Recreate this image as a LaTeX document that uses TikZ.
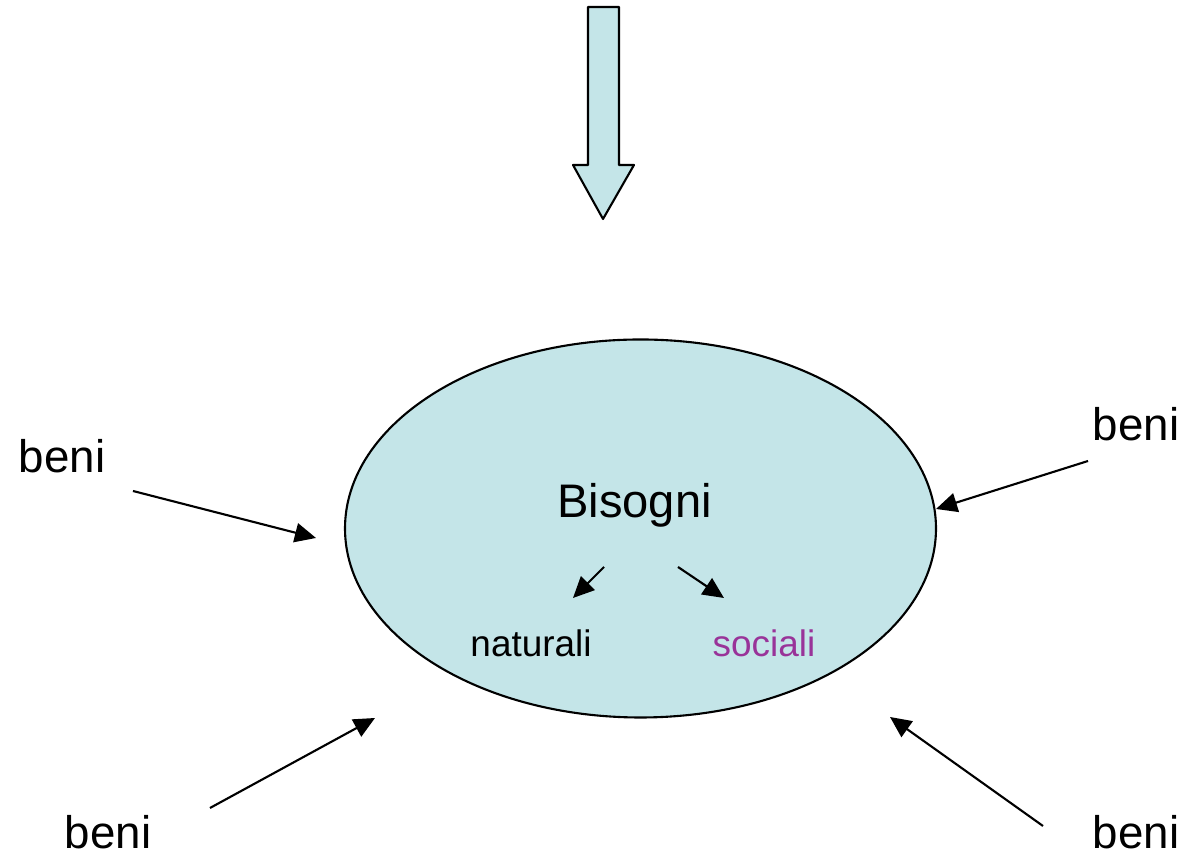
\documentclass[tikz,border=0pt]{standalone}
\usepackage{fontspec}
\setmainfont{Liberation Sans}
\usetikzlibrary{arrows.meta,shapes.geometric}
\definecolor{celeste}{RGB}{196,229,232}
\definecolor{viola}{RGB}{153,51,153}
\tikzset{
	grande/.style={font=\fontsize{13}{15}\selectfont, inner sep=0pt, anchor=base},
	piccolo/.style={font=\fontsize{10.5}{12}\selectfont, inner sep=0pt, anchor=base},
	freccia/.style={->, line width=0.6pt}
}
\begin{document}
\begin{tikzpicture}[>={Triangle[length=6pt,width=5.5pt]}, line join=round]
	\useasboundingbox (0,0) rectangle (11.89,8.55);
	\def\cx{6.405} \def\cy{3.265} % centro ellisse
	\def\rx{2.955} \def\ry{1.89}
	% freccia grande in alto
	\draw[fill=celeste, line width=0.6pt] (5.88,8.48) -- (6.19,8.48) -- (6.19,6.90) -- (6.34,6.90)
		-- (6.03,6.36) -- (5.73,6.90) -- (5.88,6.90) -- cycle;
	\node[ellipse, draw, fill=celeste, line width=0.6pt, minimum width=2*\rx cm, minimum height=2*\ry cm] (bisogni) at (\cx,\cy) {};
	\node[grande, font=\fontsize{13.4}{15}\selectfont] (titolo) at (6.345,3.37) {Bisogni};
	\node[piccolo] (naturali) at (5.31,1.98) {naturali};
	\node[piccolo, text=viola] (sociali) at (7.64,1.98) {sociali};
	% beni intorno
	\node[grande] (beniNO) at (0.62,3.82) {beni};
	\node[grande] (beniNE) at (11.36,4.14) {beni};
	\node[grande] (beniSO) at (1.08,0.06) {beni};
	\node[grande] (beniSE) at (11.36,0.06) {beni};
	% estremi delle frecce
	\coordinate (aNO) at (1.33,3.64); \coordinate (bNO) at (3.16,3.17);
	\coordinate (aNE) at (10.88,3.94); \coordinate (bNE) at (9.36,3.46);
	\coordinate (aSO) at (2.10,0.47); \coordinate (bSO) at (3.75,1.37);
	\coordinate (aSE) at (10.43,0.29); \coordinate (bSE) at (8.90,1.38);
	\coordinate (aN) at (6.04,2.88); \coordinate (bN) at (5.73,2.57);
	\coordinate (aS) at (6.78,2.88); \coordinate (bS) at (7.24,2.57);
	\foreach \p in {NO,NE,SO,SE,N,S}
		\draw[freccia] (a\p) -- (b\p);
\end{tikzpicture}
\end{document}
